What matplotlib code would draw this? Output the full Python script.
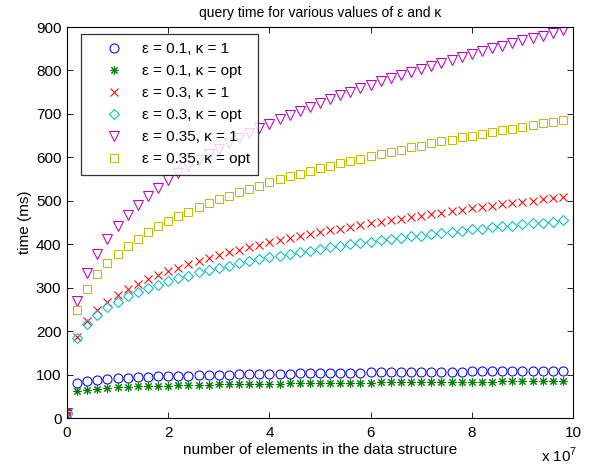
import numpy as np
import matplotlib
matplotlib.use("Agg")
import matplotlib.pyplot as plt

plt.rcParams['font.family'] = ['Liberation Sans', 'DejaVu Sans']
plt.rcParams['mathtext.fontset'] = 'custom'
plt.rcParams['mathtext.rm'] = 'Liberation Sans'

# number of elements (x 1e7)
n_elements = np.arange(50) * 2e6

# query time in ms
eps01_k1 = [12, 81, 85.4, 88.1, 90.0, 91.5, 92.8, 93.9, 94.9, 95.7, 96.5,
            97.2, 97.8, 98.4, 99.0, 99.5, 100.0, 100.5, 100.9, 101.3, 101.7,
            102.1, 102.4, 102.8, 103.1, 103.4, 103.7, 104.1, 104.3, 104.6, 104.9,
            105.2, 105.4, 105.7, 105.9, 106.1, 106.4, 106.6, 106.8, 107.0, 107.2,
            107.4, 107.6, 107.8, 108.0, 108.2, 108.3, 108.5, 108.7, 108.9]
eps01_kopt = [16, 62, 65.6, 67.8, 69.4, 70.6, 71.7, 72.6, 73.4, 74.1, 74.7,
              75.3, 75.8, 76.3, 76.8, 77.2, 77.6, 78.0, 78.4, 78.7, 79.0,
              79.4, 79.7, 79.9, 80.2, 80.5, 80.7, 81.0, 81.2, 81.4, 81.7,
              81.9, 82.1, 82.3, 82.5, 82.7, 82.9, 83.1, 83.3, 83.4, 83.6,
              83.8, 83.9, 84.1, 84.3, 84.4, 84.5, 84.7, 84.8, 85.0]
eps03_k1 = [14, 187, 223, 248, 267, 283, 296, 308, 319, 329, 338,
            346, 354, 361, 368, 375, 381, 387, 393, 398, 404,
            409, 414, 419, 423, 428, 432, 436, 440, 444, 448,
            452, 456, 459, 463, 466, 470, 473, 476, 479, 483,
            486, 489, 492, 495, 497, 500, 503, 506, 508]
eps03_kopt = [10, 185, 217, 238, 255, 268, 280, 290, 299, 307, 315,
              322, 328, 335, 340, 346, 351, 356, 361, 365, 370,
              374, 378, 382, 385, 389, 393, 396, 400, 403, 406,
              409, 412, 415, 418, 420, 423, 426, 429, 431, 434,
              436, 439, 441, 443, 446, 448, 450, 452, 455]
eps035_k1 = [12, 270, 334, 378, 413, 443, 468, 491, 511, 530, 548,
             564, 579, 593, 607, 620, 632, 644, 656, 667, 677,
             688, 697, 707, 717, 725, 734, 743, 751, 759, 767,
             775, 782, 790, 797, 804, 811, 818, 825, 832, 838,
             844, 851, 857, 863, 869, 875, 880, 886, 892]
eps035_kopt = [8, 249, 298, 331, 357, 378, 397, 413, 428, 441, 453,
               464, 475, 485, 494, 503, 512, 520, 528, 535, 543,
               550, 556, 562, 569, 575, 581, 587, 592, 597, 603,
               608, 613, 618, 623, 627, 632, 637, 641, 646, 650,
               654, 658, 662, 666, 670, 674, 678, 681, 685]

series = [
    (eps01_k1, 'o', 6.5, (0, 0, 1), 'ε = 0.1, κ = 1'),
    (eps01_kopt, (8, 2, 0), 6, (0, 0.5, 0), 'ε = 0.1, κ = opt'),
    (eps03_k1, 'x', 5.5, (1, 0, 0), 'ε = 0.3, κ = 1'),
    (eps03_kopt, 'D', 5, (0, 0.75, 0.75), 'ε = 0.3, κ = opt'),
    (eps035_k1, 'v', 7, (0.75, 0, 0.75), 'ε = 0.35, κ = 1'),
    (eps035_kopt, 's', 5.5, (0.75, 0.75, 0), 'ε = 0.35, κ = opt'),
]

fig = plt.figure(figsize=(5.96, 4.68), dpi=100)
ax = fig.add_axes([0.1124, 0.1068, 0.849, 0.8355])

for vals, mk, ms, col, lab in series:
    ax.plot(n_elements, vals, linestyle='none', marker=mk, markersize=ms,
            markerfacecolor='none', markeredgecolor=col, markeredgewidth=0.75,
            label=lab)

ax.set_xlim(0, 1e8)
ax.set_ylim(0, 900)
ax.set_xticks(np.arange(0, 1.01e8, 2e7))
ax.set_xticklabels(['0', '2', '4', '6', '8', '10'])
ax.set_yticks(np.arange(0, 901, 100))
ax.tick_params(direction='in', top=True, right=True, length=4, width=0.6,
               labelsize=11, pad=4)
ax.tick_params(axis='x', pad=6)
for sp in ax.spines.values():
    sp.set_linewidth(0.8)

ax.set_title('query time for various values of ε and κ', fontsize=10, pad=7)
ax.set_xlabel('number of elements in the data structure', fontsize=11, labelpad=2)
ax.set_ylabel('time (ms)', fontsize=11, labelpad=3)
fig.text(577 / 596, 0.006, r'x 10$^{7}$', fontsize=11, ha='right', va='bottom')

leg = ax.legend(loc='upper left', bbox_to_anchor=(0.028, 0.982), fontsize=11,
                frameon=True, fancybox=False, edgecolor='black',
                borderpad=0.55, labelspacing=0.52, handletextpad=0.2,
                handlelength=3.2, borderaxespad=0)
leg.get_frame().set_linewidth(0.9)

fig.savefig('out.png', dpi=100)
